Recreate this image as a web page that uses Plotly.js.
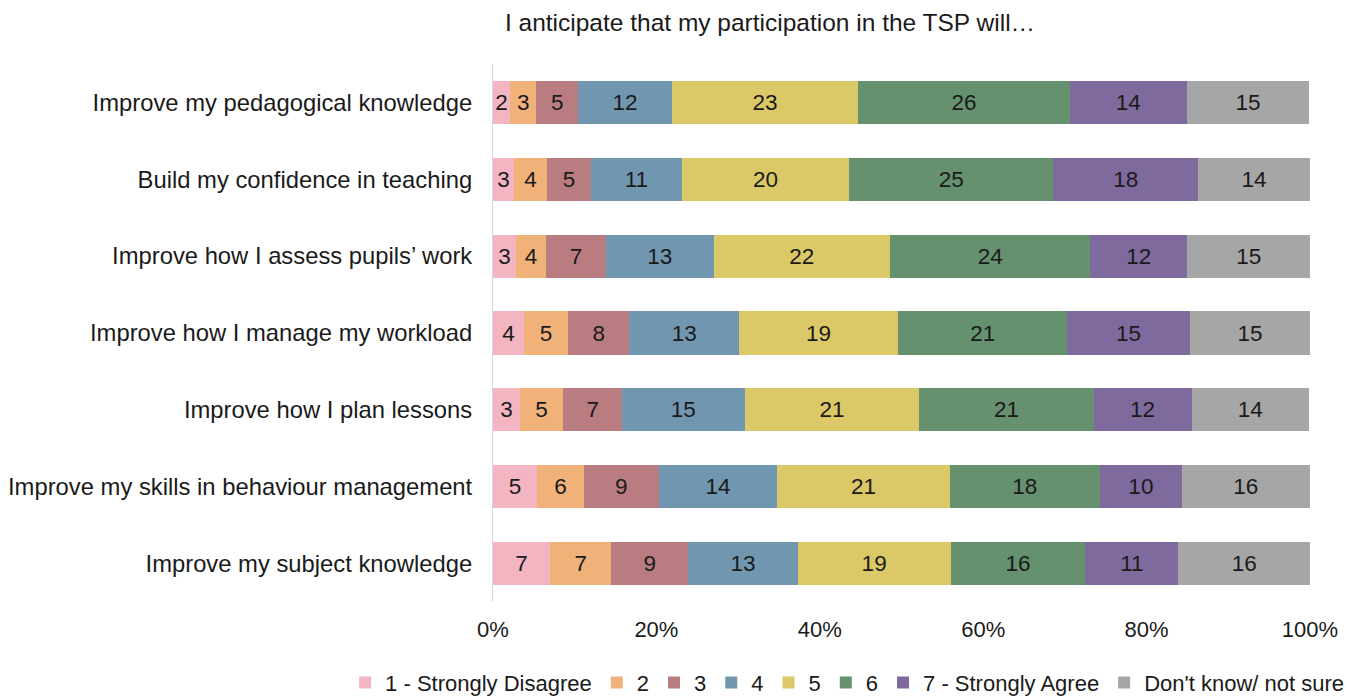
<!DOCTYPE html>
<html>
<head>
<meta charset="utf-8">
<script src="https://cdn.plot.ly/plotly-3.0.1.min.js"></script>
<style>html,body{margin:0;padding:0;background:#fff;}#chart{width:1366px;height:697px;}</style>
</head>
<body>
<div id="chart"></div>
<script>
const categories = [
  "Improve my pedagogical knowledge",
  "Build my confidence in teaching",
  "Improve how I assess pupils\u2019 work",
  "Improve how I manage my workload",
  "Improve how I plan lessons",
  "Improve my skills in behaviour management",
  "Improve my subject knowledge"
];
const seriesNames = ["1 - Strongly Disagree","2","3","4","5","6","7 - Strongly Agree","Don't know/ not sure"];
const colors = ["#F4B5C3","#F1B27A","#B97C81","#7196AF","#DBC867","#65916F","#7F6A9D","#A6A6A6"];

// Segment widths (percent)
const s1 = [2.1, 2.6, 2.8, 3.8, 3.3, 5.4, 7.0];
const s2 = [3.2, 4.0, 3.7, 5.4, 5.3, 5.7, 7.5];
const s3 = [5.1, 5.4, 7.3, 7.5, 7.2, 9.2, 9.4];
const s4 = [11.5, 11.1, 13.2, 13.4, 15.0, 14.5, 13.4];
const s5 = [22.8, 20.5, 21.6, 19.5, 21.4, 21.1, 18.7];
const s6 = [25.9, 25.0, 24.5, 20.7, 21.3, 18.4, 16.5];
const s7 = [14.3, 17.7, 11.9, 15.0, 12.0, 10.0, 11.4];
const s8 = [15.0, 13.7, 15.0, 14.7, 14.4, 15.7, 16.1];

// Labels printed on the segments
const l1 = ["2","3","3","4","3","5","7"];
const l2 = ["3","4","4","5","5","6","7"];
const l3 = ["5","5","7","8","7","9","9"];
const l4 = ["12","11","13","13","15","14","13"];
const l5 = ["23","20","22","19","21","21","19"];
const l6 = ["26","25","24","21","21","18","16"];
const l7 = ["14","18","12","15","12","10","11"];
const l8 = ["15","14","15","15","14","16","16"];

const tickVals = [0, 20, 40, 60, 80, 100];
const tickText = ["0%","20%","40%","60%","80%","100%"];

const values = [s1,s2,s3,s4,s5,s6,s7,s8];
const labels = [l1,l2,l3,l4,l5,l6,l7,l8];

const font = "Liberation Sans, Arial, sans-serif";
const ink = "#1a1a1a";
const traces = values.map((v, i) => ({
  type: "bar",
  orientation: "h",
  name: seriesNames[i],
  y: categories,
  x: v,
  text: labels[i],
  textposition: "inside",
  insidetextanchor: "middle",
  textangle: 0,
  constraintext: "none",
  texttemplate: "%{text}",
  textfont: {family: font, size: 22.5, color: ink},
  marker: {color: colors[i], line: {width: 0}},
  hoverinfo: "name+x"
}));

const layout = {
  width: 1366, height: 697,
  paper_bgcolor: "#fff", plot_bgcolor: "#fff",
  barmode: "stack",
  bargap: 0.437,
  margin: {l: 493, r: 56, t: 64, b: 95, autoexpand: false},
  font: {family: font, size: 22, color: ink},
  title: {
    text: "I anticipate that my participation in the TSP will\u2026",
    font: {family: font, size: 24.5, color: ink},
    xref: "container", x: 0.5637, xanchor: "center",
    yref: "container", y: 0.968, yanchor: "middle"
  },
  xaxis: {
    range: [0, 100],
    tickvals: tickVals,
    ticktext: tickText,
    showgrid: false, zeroline: false, showline: false,
    ticks: "", ticklabelstandoff: 12,
    tickfont: {family: font, size: 22, color: ink},
    fixedrange: true
  },
  yaxis: {
    autorange: "reversed",
    showgrid: false, zeroline: false,
    showline: true, linecolor: "#D9D9D9", linewidth: 1,
    ticks: "", ticklabelstandoff: 15,
    tickfont: {family: font, size: 23.8, color: ink},
    fixedrange: true
  },
  showlegend: true,
  legend: {
    orientation: "h",
    traceorder: "normal",
    xref: "paper", x: -0.181, xanchor: "left",
    yref: "paper", y: -0.15, yanchor: "middle",
    font: {family: font, size: 22, color: ink},
    itemwidth: 30,
    tracegroupgap: 0
  }
};

Plotly.newPlot("chart", traces, layout, {displayModeBar: false, staticPlot: true});
</script>
</body>
</html>
